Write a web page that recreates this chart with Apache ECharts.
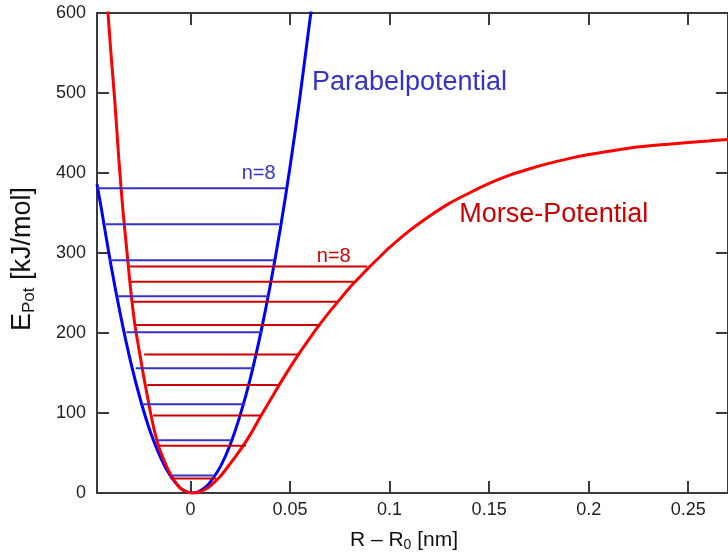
<!DOCTYPE html>
<html><head><meta charset="utf-8">
<script src="https://cdn.jsdelivr.net/npm/echarts@6/dist/echarts.min.js"></script>
<style>html,body{margin:0;padding:0;background:#fff}#c{width:728px;height:558px}</style>
</head><body><div id="c"></div>
<script>
// Axis ticks
const xTickValues = [0, 0.05, 0.1, 0.15, 0.2, 0.25];
const yTickValues = [0, 100, 200, 300, 400, 500, 600];

// Parabelpotential (harmonic) curve: R-R0 [nm], E [kJ/mol]
const parabelX = [-0.047, -0.045, -0.040, -0.035, -0.030, -0.025, -0.020, -0.015, -0.010, -0.005, -0.0025, 0, 0.001, 0.0035, 0.005, 0.0075, 0.010, 0.015, 0.020, 0.025, 0.030, 0.035, 0.040, 0.045, 0.050, 0.055, 0.060, 0.062];
const parabelE = [386, 358, 285, 220, 163, 115, 75, 44, 21, 6, 2.1, 0.2, 0, 1.1, 3, 7.2, 14, 33, 61, 98, 143, 197, 259, 329, 408, 496, 592, 627];

// Morse-Potential curve
const morseX = [-0.042, -0.040, -0.038, -0.036, -0.034, -0.032, -0.030, -0.028, -0.026, -0.024, -0.022, -0.020, -0.018, -0.016, -0.014, -0.012, -0.010, -0.008, -0.006, -0.004, -0.002, 0, 0.0015, 0.004, 0.007, 0.010, 0.015, 0.020, 0.025, 0.030, 0.035, 0.040, 0.045, 0.050, 0.055, 0.060, 0.065, 0.070, 0.075, 0.080, 0.085, 0.090, 0.095, 0.100, 0.110, 0.120, 0.130, 0.140, 0.150, 0.160, 0.170, 0.180, 0.190, 0.200, 0.220, 0.240, 0.260, 0.270];
const morseE = [618, 550, 488, 416, 354, 303, 252, 211, 181, 152, 125, 99, 76, 58, 45, 33, 23, 15, 8, 4, 1.5, 0.3, 0, 1, 4, 9, 21, 37, 54, 73, 95, 116, 137, 157, 176, 194, 211, 227, 242, 257, 270, 283, 295, 307, 328, 346, 362, 375, 387, 397, 405, 412, 418, 423, 431, 436, 440, 442];

// Energy levels n = 0..8
const parabelLevelE = [22, 66, 111, 156, 201, 246, 291, 336, 381];
const parabelLevelLeft = [-0.0093, -0.0163, -0.0244, -0.0275, -0.0322, -0.0367, -0.041, -0.0425, -0.047];
const parabelLevelRight = [0.0112, 0.0203, 0.0275, 0.0312, 0.0362, 0.0392, 0.042, 0.0445, 0.048];
const morseLevelE = [18, 59, 97, 135, 173, 210, 239, 264, 283];
const morseLevelLeft = [-0.010, -0.016, -0.0188, -0.0217, -0.0233, -0.028, -0.0292, -0.0308, -0.0308];
const morseLevelRight = [0.0128, 0.0278, 0.0353, 0.0442, 0.0542, 0.0655, 0.0735, 0.082, 0.0887];

// Annotations (anchor in data coordinates: left edge, vertical middle)
const annotTexts = ['Parabelpotential', 'Morse-Potential', 'n=8', 'n=8'];
const annotX = [0.061, 0.135, 0.0257, 0.0634];
const annotE = [513, 348, 400, 296];
const annotColors = ['#3333cc', '#cc0000', '#3333cc', '#cc0000'];
const annotSizes = [27, 27, 20, 20];

const FONT = '"Liberation Sans", Arial, sans-serif';
const axisColor = '#3a3a3a';

const chart = echarts.init(document.getElementById('c'), null, {renderer: 'canvas'});

function lineAxis(pos, showLabels) {
  return {
    type: 'value', position: pos, min: -0.047, max: 0.27,
    axisLine: {show: true, onZero: false, lineStyle: {color: axisColor, width: 2}},
    axisTick: {show: true, inside: true, length: 12, customValues: xTickValues, lineStyle: {color: axisColor, width: 2}},
    axisLabel: {show: showLabels, customValues: xTickValues, fontSize: 18, color: '#222', fontFamily: FONT, margin: 8},
    splitLine: {show: false}
  };
}
function yAxisDef(pos, showLabels) {
  return {
    type: 'value', position: pos, min: 0, max: 600, interval: 100,
    axisLine: {show: true, onZero: false, lineStyle: {color: axisColor, width: 2}},
    axisTick: {show: true, inside: true, length: 12, lineStyle: {color: axisColor, width: 2}},
    axisLabel: {show: showLabels, fontSize: 18, color: '#222', fontFamily: FONT, margin: 11},
    splitLine: {show: false}
  };
}

const series = [];
series.push({type: 'line', name: 'Parabel', data: parabelX.map((x, i) => [x, parabelE[i]]), showSymbol: false, smooth: 0.3,
  lineStyle: {color: '#0000ff', width: 3}, z: 2});
series.push({type: 'line', name: 'Morse', data: morseX.map((x, i) => [x, morseE[i]]), showSymbol: false, smooth: 0.3,
  lineStyle: {color: '#ff0000', width: 3}, z: 2});
parabelLevelE.forEach((e, i) => {
  series.push({type: 'line', data: [[parabelLevelLeft[i], e], [parabelLevelRight[i], e]], showSymbol: false,
    lineStyle: {color: '#3333cc', width: 2}, z: 3});
});
morseLevelE.forEach((e, i) => {
  series.push({type: 'line', data: [[morseLevelLeft[i], e], [morseLevelRight[i], e]], showSymbol: false,
    lineStyle: {color: '#cc0000', width: 2}, z: 4});
});

chart.setOption({
  animation: false,
  backgroundColor: '#fff',
  grid: {left: 97, top: 13, width: 634, height: 480, containLabel: false},
  xAxis: [lineAxis('bottom', true), lineAxis('top', false)],
  yAxis: [yAxisDef('left', true), yAxisDef('right', false)],
  series: series
});

const graphics = annotTexts.map((t, i) => {
  const p = chart.convertToPixel({xAxisIndex: 0, yAxisIndex: 0}, [annotX[i], annotE[i]]);
  return {type: 'text', x: p[0], y: p[1], z: 10,
    style: {text: t, fill: annotColors[i], fontSize: annotSizes[i], fontFamily: FONT, textAlign: 'left', textVerticalAlign: 'middle'}};
});
graphics.push({type: 'text', x: 404, y: 540, z: 10,
  style: {text: 'R – R{s|0} [nm]', fill: '#111', fontSize: 21, fontFamily: FONT, textAlign: 'center', textVerticalAlign: 'middle',
    rich: {s: {fontSize: 14, fontFamily: FONT, fill: '#111', padding: [10, 0, 0, 0]}}}});
graphics.push({type: 'text', x: 23, y: 259, rotation: Math.PI / 2, z: 10,
  style: {text: 'E{s|Pot} [kJ/mol]', fill: '#111', fontSize: 27, fontFamily: FONT, textAlign: 'center', textVerticalAlign: 'middle',
    rich: {s: {fontSize: 17, fontFamily: FONT, fill: '#111', padding: [12, 0, 0, 0]}}}});
chart.setOption({graphic: graphics});
</script>
</body></html>
